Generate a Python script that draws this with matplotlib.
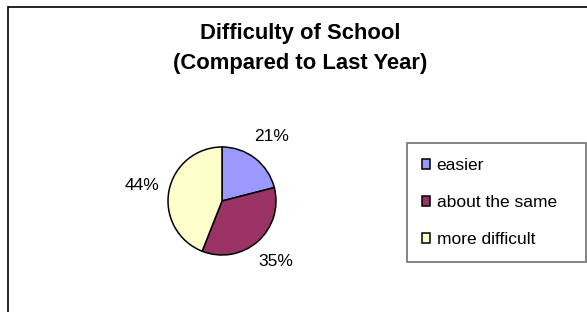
import matplotlib
matplotlib.use("Agg")
from matplotlib import pyplot as plt
from matplotlib.patches import Rectangle, Patch

plt.rcParams['font.family'] = ['Liberation Sans', 'DejaVu Sans']

# data
categories = ['easier', 'about the same', 'more difficult']
shares = [21, 35, 44]
colors = ['#9999FF', '#993366', '#FFFFCC']
title = 'Difficulty of School\n(Compared to Last Year)'

W, H = 587, 312
fig = plt.figure(figsize=(W / 100, H / 100), dpi=100)

# outer chart border (runs off the right and bottom edge)
fig.patches.append(Rectangle((8 / W, -0.1), 1.1, 1 - 7 / H + 0.1,
                             transform=fig.transFigure, fill=False,
                             edgecolor='black', linewidth=1.2))

fig.text(300 / W, 1 - 48.5 / H, title, ha='center', va='center',
         fontsize=15.8, fontweight='bold', linespacing=1.55)

# pie axes: centre (222, 201) px, radius 54 px
cx, cy, r = 222, 201, 54
ax = fig.add_axes([(cx - r) / W, (H - cy - r) / H, 2 * r / W, 2 * r / H])
wedges, texts = ax.pie(shares, colors=colors, startangle=90, counterclock=False,
                       labels=[f'{v}%' for v in shares], labeldistance=1.5,
                       wedgeprops=dict(edgecolor='black', linewidth=1.1),
                       textprops=dict(fontsize=12.5, ha='center', va='center'))
ax.set_xlim(-1, 1)
ax.set_ylim(-1, 1)

handles = [Patch(facecolor=c, edgecolor='black', linewidth=1.1) for c in colors]
leg = fig.legend(handles, categories, loc='upper left',
                 bbox_to_anchor=(407 / W, 1 - 143 / H, 179 / W, 0.0001),
                 mode='expand', borderaxespad=0, fontsize=12.5,
                 handlelength=0.5, handleheight=0.5, handletextpad=0.35,
                 labelspacing=1.27, borderpad=0.85, fancybox=False,
                 framealpha=1, edgecolor='#707070')
leg.get_frame().set_linewidth(1.2)

fig.savefig('out.png', dpi=100)
